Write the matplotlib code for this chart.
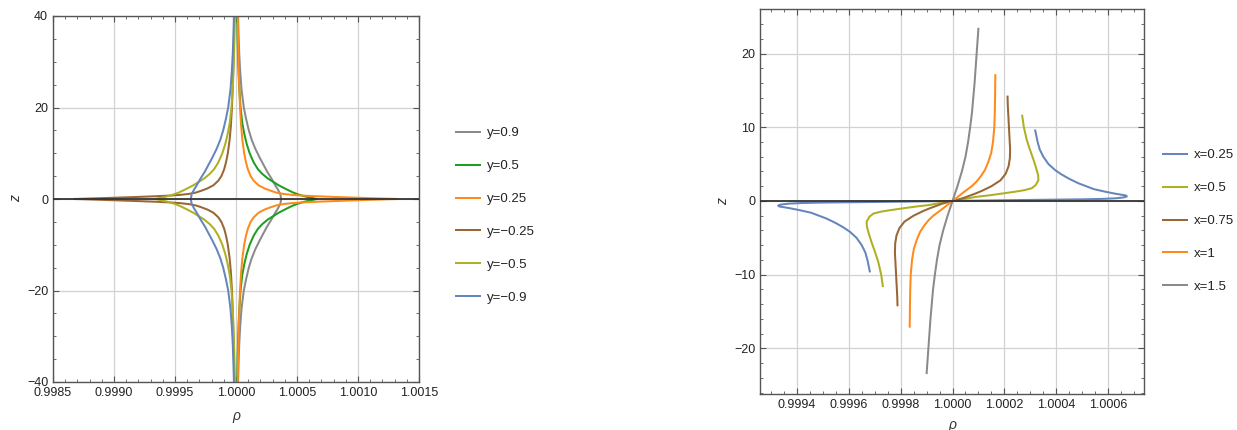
import matplotlib
matplotlib.use('Agg')
import matplotlib.pyplot as plt
from matplotlib.ticker import MultipleLocator, FormatStrFormatter
from matplotlib.lines import Line2D

plt.rcParams['font.family'] = ['Liberation Sans', 'DejaVu Sans']
plt.rcParams['axes.unicode_minus'] = True

# ---------------- data (deviations of rho from 1, in units of 1e-4) ----------------
# Left panel: upper half (z >= 0); curves are mirror-symmetric in z.
z_y09 = [0, 1, 2, 3, 4.5, 6, 7.5, 9, 11, 13, 15, 17.5, 20, 24, 28, 32, 36, 40, 45]
d_y09 = [3.70, 3.64, 3.45, 3.22, 2.90, 2.55, 2.25, 1.95, 1.58, 1.28, 1.05, 0.83, 0.64,
         0.45, 0.34, 0.26, 0.21, 0.17, 0.14]
z_y05 = [0, 0.3, 0.6, 1.0, 1.4, 1.75, 2.3, 3.0, 3.5, 4.5, 5.5, 6.5, 8, 10, 12, 14, 16.5,
         20, 25, 30, 35, 40, 45]
d_y05 = [6.64, 6.1, 5.6, 5.1, 4.7, 4.42, 4.0, 3.5, 3.2, 2.6, 2.15, 1.8, 1.45, 1.12, 0.88,
         0.70, 0.52, 0.37, 0.25, 0.18, 0.13, 0.10, 0.08]
z_y025 = [0, 0.1, 0.2, 0.3, 0.4, 0.5, 0.6, 0.75, 0.9, 1.1, 1.4, 1.8, 2.3, 3.0, 4.0, 5.0,
          6.5, 8, 10, 13, 16, 20, 25, 30, 35, 40, 45]
d_y025 = [13.28, 12.0, 10.8, 9.7, 8.6, 7.6, 6.6, 5.4, 4.6, 3.9, 3.3, 2.85, 2.35, 1.85,
          1.45, 1.2, 0.97, 0.82, 0.67, 0.52, 0.42, 0.33, 0.26, 0.21, 0.17, 0.14, 0.12]

left_labels = ['y=0.9', 'y=0.5', 'y=0.25', 'y=\u22120.25', 'y=\u22120.5', 'y=\u22120.9']
left_colors = ['#8a8a8a', '#1f9e1f', '#ff8a1c', '#9a6634', '#adb022', '#6486bd']
left_sign = [1, 1, 1, -1, -1, -1]

# Right panel: upper half (from the origin); curves are point-symmetric about (1, 0).
z_x025 = [0, 0.05, 0.1, 0.14, 0.18, 0.22, 0.28, 0.36, 0.48, 0.62, 0.75, 0.85, 1.0, 1.26,
          1.6, 2.0, 2.4, 3.0, 3.6, 4.2, 5.0, 6.0, 7.0, 8.0, 9.7]
d_x025 = [0, 1, 2, 3, 4, 5, 5.8, 6.3, 6.6, 6.72, 6.68, 6.5, 6.25, 5.88, 5.45, 5.15, 4.85,
          4.5, 4.2, 3.95, 3.7, 3.5, 3.36, 3.28, 3.18]
z_x05 = [0, 0.27, 0.54, 0.8, 1.0, 1.25, 1.45, 1.72, 2.13, 2.8, 3.5, 4.5, 5.6, 7, 8.3, 10, 11.7]
d_x05 = [0, 0.48, 0.87, 1.5, 1.9, 2.4, 2.75, 3.05, 3.2, 3.31, 3.3, 3.22, 3.12, 2.98, 2.86,
         2.75, 2.68]
z_x075 = [0, 0.35, 0.7, 1.0, 1.4, 2.0, 2.8, 3.7, 4.7, 5.8, 7, 9, 11, 13, 14.3]
d_x075 = [0, 0.38, 0.65, 0.88, 1.15, 1.5, 1.85, 2.05, 2.16, 2.21, 2.22, 2.19, 2.16, 2.13, 2.12]
z_x1 = [0, 0.6, 1.0, 1.5, 2, 2.6, 3.3, 4.2, 5.3, 6.5, 8, 10, 12, 14, 17.2]
d_x1 = [0, 0.22, 0.36, 0.55, 0.74, 0.92, 1.08, 1.25, 1.38, 1.49, 1.56, 1.61, 1.63, 1.64, 1.65]
z_x15 = [0, 2, 4, 6, 8, 10, 12, 14, 16, 18, 20, 22, 23.5]
d_x15 = [0, 0.19, 0.36, 0.5, 0.6, 0.68, 0.75, 0.8, 0.85, 0.89, 0.93, 0.97, 1.0]

right_labels = ['x=0.25', 'x=0.5', 'x=0.75', 'x=1', 'x=1.5']
right_colors = ['#6486bd', '#adb022', '#9a6634', '#ff8a1c', '#8a8a8a']

W, H = 1237, 430
fig = plt.figure(figsize=(W / 100, H / 100), dpi=100)
ax1 = fig.add_axes([53 / W, 1 - 382 / H, 366 / W, 366 / H])
ax2 = fig.add_axes([760 / W, 1 - 394 / H, 384 / W, 385 / H])


def style(ax):
    for s in ax.spines.values():
        s.set_color('#555555')
        s.set_linewidth(1.0)
    ax.tick_params(which='both', direction='in', top=True, right=True,
                   colors='#555555', labelcolor='#222222', labelsize=9)
    ax.tick_params(which='major', length=4.5, width=0.8)
    ax.tick_params(which='minor', length=2.5, width=0.6)
    ax.grid(True, which='major', color='#d2d2d2', lw=0.9)
    ax.set_axisbelow(True)
    ax.axhline(0, color='#333333', lw=1.3, zorder=3)


LW = 1.45
# ---------------- left panel ----------------
left_profiles = [(z_y09, d_y09), (z_y05, d_y05), (z_y025, d_y025),
                 (z_y025, d_y025), (z_y05, d_y05), (z_y09, d_y09)]
handles1 = []
for (zz, dd), col, sg, lab in zip(left_profiles, left_colors, left_sign, left_labels):
    rho = [1 + sg * d * 1e-4 for d in dd]
    zfull = [-z for z in zz[::-1]] + zz[1:]
    rfull = rho[::-1] + rho[1:]
    ax1.plot(rfull, zfull, color=col, lw=LW, zorder=2, solid_capstyle='butt')
    handles1.append(Line2D([], [], color=col, lw=LW))

ax1.set_xlim(0.9985, 1.0015)
ax1.set_ylim(-40, 40)
ax1.xaxis.set_major_locator(MultipleLocator(0.0005))
ax1.xaxis.set_minor_locator(MultipleLocator(0.0001))
ax1.xaxis.set_major_formatter(FormatStrFormatter('%.4f'))
ax1.yaxis.set_major_locator(MultipleLocator(20))
ax1.yaxis.set_minor_locator(MultipleLocator(5))
style(ax1)
ax1.set_xlabel('\u03c1', fontsize=10, style='italic', labelpad=7, color='#333333')
ax1.set_ylabel('z', fontsize=10, style='italic', labelpad=3, color='#333333')

# ---------------- right panel ----------------
right_profiles = [(z_x025, d_x025), (z_x05, d_x05), (z_x075, d_x075), (z_x1, d_x1),
                  (z_x15, d_x15)]
handles2 = []
for (zz, dd), col in zip(right_profiles, right_colors):
    rho_up = [1 + d * 1e-4 for d in dd]
    rho_dn = [1 - d * 1e-4 for d in dd]
    zfull = [-z for z in zz[::-1]] + zz[1:]
    rfull = rho_dn[::-1] + rho_up[1:]
    ax2.plot(rfull, zfull, color=col, lw=LW, zorder=2, solid_capstyle='butt')
    handles2.append(Line2D([], [], color=col, lw=LW))

ax2.set_xlim(0.999258, 1.000738)
ax2.set_ylim(-26.2, 26.05)
ax2.xaxis.set_major_locator(MultipleLocator(0.0002))
ax2.xaxis.set_minor_locator(MultipleLocator(0.00005))
ax2.xaxis.set_major_formatter(FormatStrFormatter('%.4f'))
ax2.yaxis.set_major_locator(MultipleLocator(10))
ax2.yaxis.set_minor_locator(MultipleLocator(2))
style(ax2)
ax2.set_xlabel('\u03c1', fontsize=10, style='italic', labelpad=5.5, color='#333333')
ax2.set_ylabel('z', fontsize=10, style='italic', labelpad=3, color='#333333')

# ---------------- legends ----------------
leg_kw = dict(frameon=False, fontsize=9.5, handlelength=1.8, handletextpad=0.55,
              labelspacing=1.57, borderpad=0, borderaxespad=0, loc='upper left')
leg1 = fig.legend(handles1, left_labels, bbox_to_anchor=(456 / W, 1 - 127 / H), **leg_kw)
leg2 = fig.legend(handles2, right_labels, bbox_to_anchor=(1163 / W, 1 - 149 / H), **leg_kw)
for leg in (leg1, leg2):
    for t in leg.get_texts():
        t.set_color('#222222')

fig.savefig('out.png', dpi=100)
